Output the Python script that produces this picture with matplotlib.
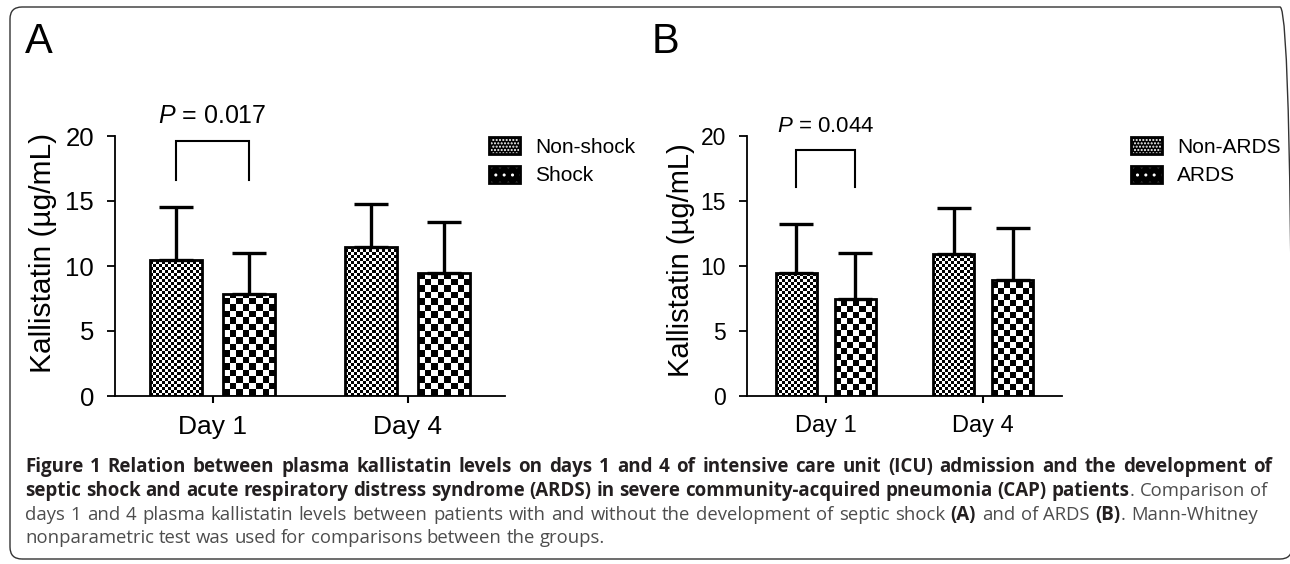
import numpy as np
import matplotlib
matplotlib.use('Agg')
import matplotlib.pyplot as plt
from matplotlib.patches import FancyBboxPatch, Patch
from matplotlib.transforms import IdentityTransform
from matplotlib.legend_handler import HandlerTuple

plt.rcParams['font.family'] = ['Liberation Sans', 'DejaVu Sans']
plt.rcParams['mathtext.fontset'] = 'custom'
plt.rcParams['mathtext.rm'] = 'Liberation Sans'
plt.rcParams['mathtext.it'] = 'Liberation Sans:italic'

# dados
days = ['Day 1', 'Day 4']

shock_labels = ['Non-shock', 'Shock']
nonshock_mean = [10.5, 11.5]
nonshock_sd = [4.05, 3.3]
shock_mean = [7.85, 9.5]
shock_sd = [3.15, 3.9]
p_shock = '0.017'
bracket_shock = [19.6, 16.65]   # topo, pontas

ards_labels = ['Non-ARDS', 'ARDS']
nonards_mean = [9.5, 10.9]
nonards_sd = [3.75, 3.55]
ards_mean = [7.5, 8.9]
ards_sd = [3.5, 4.0]
p_ards = '0.044'
bracket_ards = [18.9, 16.05]

W, H = 1290, 564
fig = plt.figure(figsize=(W / 100, H / 100), dpi=100)


def px_axes(left, right, top, bottom):
    return fig.add_axes([left / W, 1 - bottom / H, (right - left) / W, (bottom - top) / H])


def checker(ax, bar, cell):
    # preenche a barra com um xadrez de 'cell' pixels
    x0, y0 = bar.get_x(), bar.get_y()
    w, h = bar.get_width(), bar.get_height()
    bb = ax.get_position()
    sx = bb.width * W / np.diff(ax.get_xlim())[0]
    sy = bb.height * H / np.diff(ax.get_ylim())[0]
    nx = int(np.ceil(w * sx / cell))
    ny = int(np.ceil(h * sy / cell))
    ii, jj = np.indices((ny, nx))
    img = (ii + jj) % 2
    im = ax.imshow(img, cmap='gray', origin='lower', interpolation='nearest',
                   extent=[x0, x0 + nx * cell / sx, y0, y0 + ny * cell / sy],
                   aspect='auto', zorder=2)
    im.set_clip_path(bar)


def panel(ax, m1, s1, m2, s2, pval, bracket, cells, fs):
    x = np.arange(len(days))
    off, bw = 0.187, 0.262
    ax.set_xlim(-0.5, 1.5)
    ax.set_ylim(0, 20)
    b1 = ax.bar(x - off, m1, bw, facecolor='none', edgecolor='black', linewidth=2, zorder=3)
    b2 = ax.bar(x + off, m2, bw, facecolor='none', edgecolor='black', linewidth=2, zorder=3)
    for b in b1:
        checker(ax, b, cells[0])
    for b in b2:
        checker(ax, b, cells[1])
    ax.set_xlim(-0.5, 1.5)
    ax.set_ylim(0, 20)
    for xx, mm, ss in [(x - off, m1, s1), (x + off, m2, s2)]:
        ax.errorbar(xx, mm, yerr=[np.zeros(len(mm)), ss], fmt='none', ecolor='black',
                    elinewidth=2.4, capsize=12, capthick=2.4, zorder=4)

    # colchete da comparacao do dia 1
    xl, xr = x[0] - off, x[0] + off
    ax.plot([xl, xl, xr, xr], [bracket[1], bracket[0], bracket[0], bracket[1]],
            color='black', lw=1.5, clip_on=False, solid_joinstyle='miter')
    ax.text(x[0], bracket[0] + 1.4, '$P$ = ' + pval, ha='center', va='baseline',
            fontsize=fs[0], clip_on=False)

    ax.set_xticks(x, days)
    ax.set_yticks([0, 5, 10, 15, 20])
    ax.tick_params(axis='y', labelsize=fs[1], length=6, width=1.3, pad=9)
    ax.tick_params(axis='x', labelsize=fs[2], length=5, width=1.5, pad=9)
    for s in ['top', 'right']:
        ax.spines[s].set_visible(False)
    for s in ['left', 'bottom']:
        ax.spines[s].set_linewidth(1.3)

    h1 = (Patch(facecolor='black', edgecolor='white', hatch='.....', lw=0),
          Patch(facecolor='none', edgecolor='black', lw=2))
    h2 = (Patch(facecolor='black', edgecolor='white', hatch='..', lw=0),
          Patch(facecolor='none', edgecolor='black', lw=2))
    return [h1, h2]


axA = px_axes(115, 505, 136, 396)
hA = panel(axA, nonshock_mean, nonshock_sd, shock_mean, shock_sd,
           p_shock, bracket_shock, (3, 6.5), (18, 18.5, 19))
axB = px_axes(747, 1062, 136, 396)
hB = panel(axB, nonards_mean, nonards_sd, ards_mean, ards_sd,
           p_ards, bracket_ards, (3, 6), (16, 16.5, 17))

for ax, hh, labs, lx in [(axA, hA, shock_labels, 489), (axB, hB, ards_labels, 1131)]:
    ax.legend(hh, labs, handler_map={tuple: HandlerTuple(ndivide=1, pad=0)},
              loc='upper left', bbox_to_anchor=(lx / W, 1 - 137 / H),
              bbox_transform=fig.transFigure, frameon=False, fontsize=15,
              handlelength=1.5, handleheight=0.85, handletextpad=0.7,
              labelspacing=0.45, borderpad=0, borderaxespad=0)

fig.text(43 / W, 1 - 253 / H, 'Kallistatin (µg/mL)', rotation=90, ha='center', va='center', fontsize=21.5)
fig.text(681 / W, 1 - 260 / H, 'Kallistatin (µg/mL)', rotation=90, ha='center', va='center', fontsize=21)
fig.text(25 / W, 1 - 53 / H, 'A', fontsize=30, va='baseline')
fig.text(652 / W, 1 - 53 / H, 'B', fontsize=30, va='baseline')

# moldura arredondada
frame = FancyBboxPatch((10, 5), 1282, 552, boxstyle='round,pad=0,rounding_size=12',
                       transform=IdentityTransform(), facecolor='none',
                       edgecolor='#333333', linewidth=1.0)
fig.patches.append(frame)

# legenda da figura (texto com partes em negrito), linhas 1-3 justificadas
caption = [
    [("Figure 1 Relation between plasma kallistatin levels on days 1 and 4 of intensive care unit (ICU) admission and the development of", 'bold')],
    [("septic shock and acute respiratory distress syndrome (ARDS) in severe community-acquired pneumonia (CAP) patients", 'bold'),
     (". Comparison of", 'normal')],
    [("days 1 and 4 plasma kallistatin levels between patients with and without the development of septic shock ", 'normal'),
     ("(A)", 'bold'), (" and of ARDS ", 'normal'), ("(B)", 'bold'), (". Mann-Whitney", 'normal')],
    [("nonparametric test was used for comparisons between the groups.", 'normal')],
]
cap_y = [472, 496, 520, 543]
cap_right = [1272, 1267, 1258, None]
cap_fs = {'bold': 13.5, 'normal': 13.3}
cap_col = {'bold': '#231f20', 'normal': '#4d4d4d'}
renderer = fig.canvas.get_renderer()


def width_px(s, weight):
    t = fig.text(0, 0, s, fontsize=cap_fs[weight], family='Open Sans', weight=weight)
    w = t.get_window_extent(renderer).width
    t.remove()
    return w


for line, yy, right in zip(caption, cap_y, cap_right):
    # palavras com peso e se ha espaco antes
    toks = []
    for seg, wt in line:
        parts = seg.split(' ')
        for k, p in enumerate(parts):
            if p == '':
                if toks:
                    toks[-1][3] = True
                continue
            space_before = (k > 0) or (toks and toks[-1][3])
            toks.append([p, wt, bool(space_before), False])
    widths = [width_px(t[0], t[1]) for t in toks]
    sp = width_px('a a', 'normal') - width_px('aa', 'normal')
    gaps = [i for i, t in enumerate(toks) if t[2] and i > 0]
    natural = sum(widths) + sp * len(gaps)
    extra = 0 if right is None else (right - 25 - natural) / len(gaps)
    x = 25
    for i, (t, w) in enumerate(zip(toks, widths)):
        if i > 0 and t[2]:
            x += sp + extra
        fig.text(x / W, 1 - yy / H, t[0], fontsize=cap_fs[t[1]], family='Open Sans',
                 weight=t[1], color=cap_col[t[1]], va='baseline')
        x += w

fig.savefig('out.png', dpi=100)
